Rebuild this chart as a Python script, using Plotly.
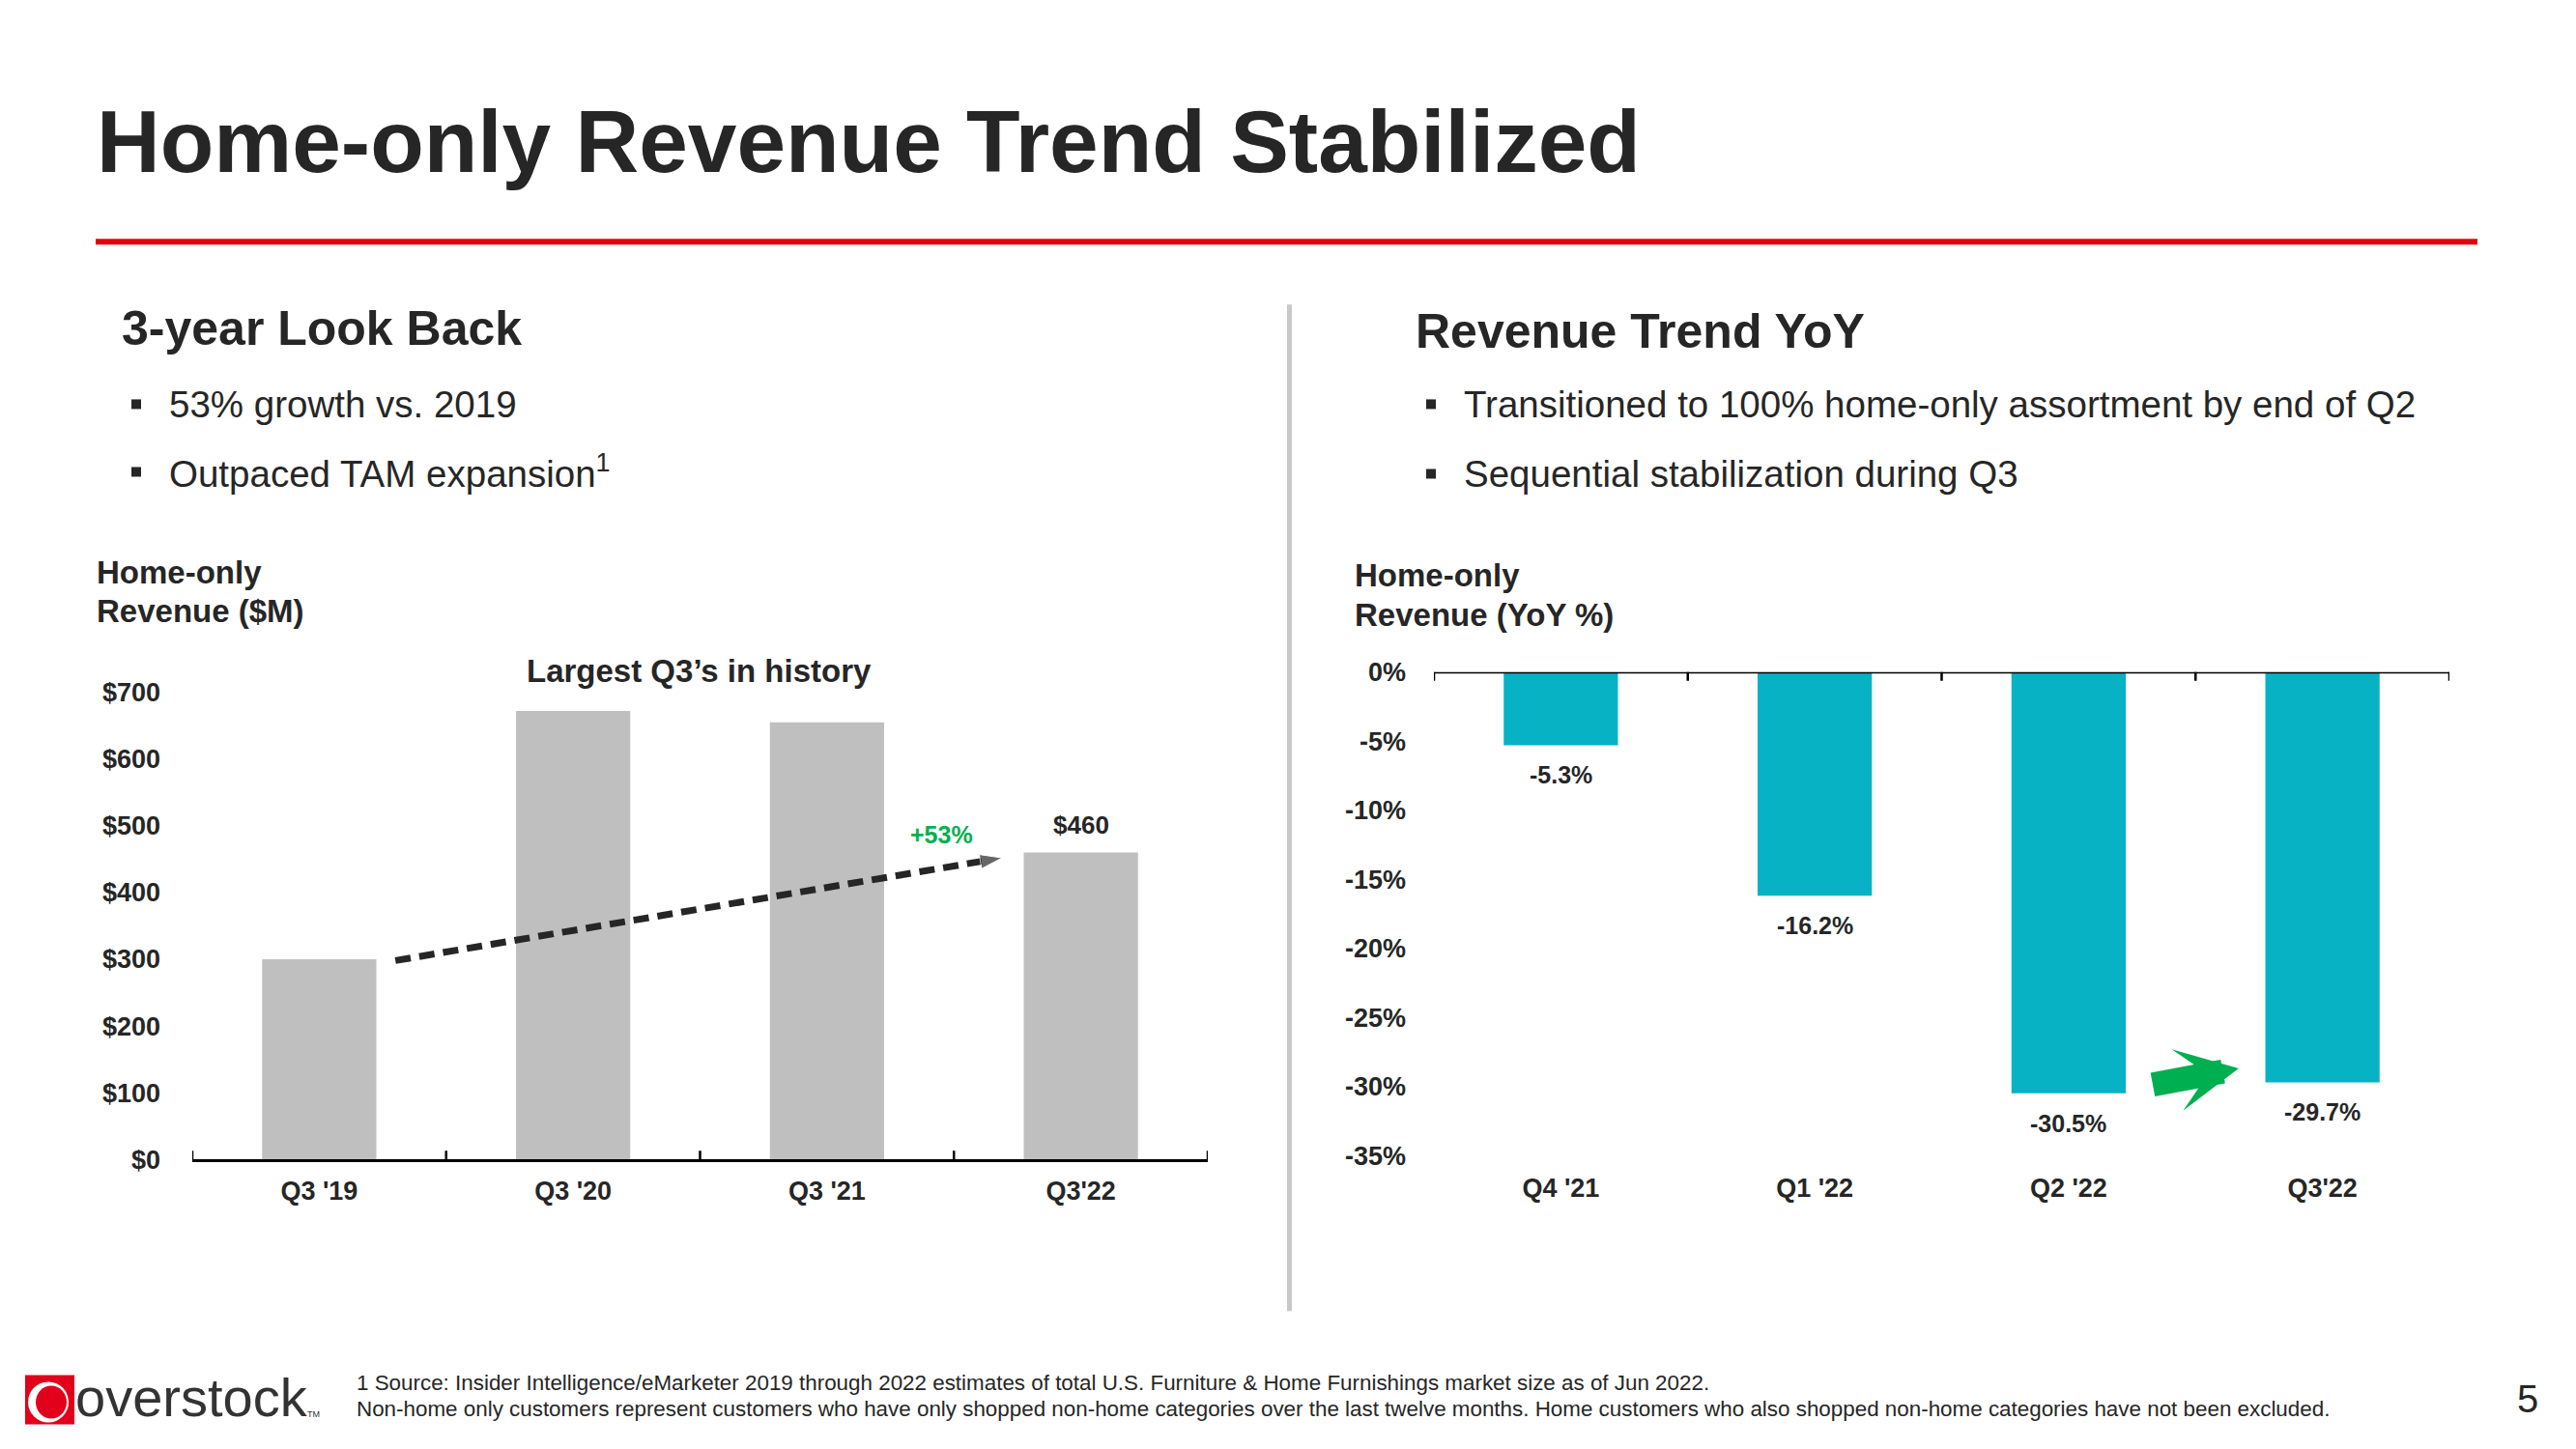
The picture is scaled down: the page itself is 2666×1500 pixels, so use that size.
import plotly.graph_objects as go

W, H = 2666, 1500

# ---------------- data ----------------
rev_categories = ["Q3 '19", "Q3 '20", "Q3 '21", "Q3'22"]
rev_values = [300, 672, 655, 460]
rev_ticks = [0, 100, 200, 300, 400, 500, 600, 700]
rev_ticklabels = ["$" + str(v) for v in rev_ticks]

yoy_categories = ["Q4 '21", "Q1 '22", "Q2 '22", "Q3'22"]
yoy_values = [-5.3, -16.2, -30.5, -29.7]
yoy_ticks = [0, -5, -10, -15, -20, -25, -30, -35]
yoy_ticklabels = [str(v) + "%" for v in yoy_ticks]
yoy_labels = [str(v) + "%" for v in yoy_values]

TEXT = "#262626"
GRAY_BAR = "#BFBFBF"
CYAN = "#07B2C4"
RED = "#E3000F"
GREEN = "#00B050"
FONT = "Liberation Sans, Arial, sans-serif"

# vertical calibration of the page (observed: rendered = 15 + 0.979 * requested)
VOFF, VSCALE = 15.0, 0.979


def fx(p):
    return p / W


def fy(p):
    return 1 - ((p - VOFF) / VSCALE) / H


fig = go.Figure()

xl = list(range(len(rev_categories)))
xr = list(range(len(yoy_categories)))

fig.add_trace(go.Bar(x=xl, y=rev_values, width=0.45, marker_color=GRAY_BAR,
                     marker_line_width=0, xaxis="x", yaxis="y", hoverinfo="skip"))
fig.add_trace(go.Bar(x=xr, y=yoy_values, width=0.45, marker_color=CYAN,
                     marker_line_width=0, xaxis="x2", yaxis="y2", hoverinfo="skip"))

# dashed growth arrow (Q3'19 -> Q3'22)
fig.add_trace(go.Scatter(
    x=[xl[0] + 0.3, xl[3] - 0.31], y=[rev_values[0] - 2, rev_values[3] - 8],
    mode="lines+markers", xaxis="x", yaxis="y", hoverinfo="skip",
    line=dict(color=TEXT, width=7, dash="16px,9px"),
    marker=dict(symbol=["circle", "arrow"], size=[0, 24], color=TEXT, angleref="previous"),
))

ann = []


def txt(text, x, y, size, color=TEXT, bold=False, xanchor="left", yanchor="middle",
        family=FONT, xref="paper", yref="paper", **kw):
    d = dict(text=text, x=x, y=y, xref=xref, yref=yref, showarrow=False,
             xanchor=xanchor, yanchor=yanchor,
             font=dict(family=family, size=size, color=color, weight="bold" if bold else "normal"))
    d.update(kw)
    ann.append(d)


# title
txt("Home-only Revenue Trend Stabilized", fx(98), fy(146), 91, bold=True)

# section headings
txt("3-year Look Back", fx(124), fy(340), 50, bold=True)
txt("Revenue Trend YoY", fx(1463), fy(343), 50, bold=True)

# bullets
txt("53% growth vs. 2019", fx(173), fy(418), 38.5)
txt("Outpaced TAM expansion<sup>1</sup>", fx(173), fy(488), 38.5)
txt("Transitioned to 100% home-only assortment by end of Q2", fx(1513), fy(418), 38.5)
txt("Sequential stabilization during Q3", fx(1513), fy(490), 38.5)

# axis titles
txt("Home-only", fx(98), fy(592), 33, bold=True)
txt("Revenue ($M)", fx(98), fy(632), 33, bold=True)
txt("Home-only", fx(1400), fy(595), 33, bold=True)
txt("Revenue (YoY %)", fx(1400), fy(636), 33, bold=True)

# left chart annotations
txt("Largest Q3\u2019s in history", fx(723), fy(694), 33, bold=True, xanchor="center")
txt("$" + str(rev_values[3]), xl[3], rev_values[3], 26, bold=True, xanchor="center",
    xref="x", yref="y", yshift=28)
txt("+53%", xl[3] - 0.55, rev_values[3], 25, color=GREEN, bold=True, xanchor="center",
    xref="x", yref="y", yshift=18)

# right chart value labels
for i, v in enumerate(yoy_values):
    txt(yoy_labels[i], xr[i], v, 25, bold=True, xanchor="center", xref="x2", yref="y2", yshift=-31)

# green arrow (Q2 -> Q3)
ann.append(dict(x=xr[2] + 0.67, y=yoy_values[3] + 1.0, ax=xr[2] + 0.32, ay=yoy_values[2] + 0.6,
                xref="x2", yref="y2", axref="x2", ayref="y2", text=" ", showarrow=True,
                arrowhead=3, arrowsize=0.43, arrowwidth=25, arrowcolor="#00AF50", standoff=0))

# footnotes
txt("1 Source: Insider Intelligence/eMarketer 2019 through 2022 estimates of total U.S. Furniture &amp; Home Furnishings market size as of Jun 2022.",
    fx(367), fy(1430), 22.4)
txt("Non-home only customers represent customers who have only shopped non-home categories over the last twelve months. Home customers who also shopped non-home categories have not been excluded.",
    fx(367), fy(1457), 22.4)
txt("5", fx(2616), fy(1447), 40, xanchor="center")

# logo
txt("overstock", fx(76), fy(1445), 56, color="#333333")
txt("TM", fx(316), fy(1463), 9, color="#333333")

shapes = []
# red rule
shapes.append(dict(type="rect", xref="paper", yref="paper", x0=fx(99), x1=fx(2564), y0=fy(253), y1=fy(247),
                   fillcolor=RED, line_width=0))
# divider
shapes.append(dict(type="rect", xref="paper", yref="paper", x0=fx(1332), x1=fx(1337), y0=fy(1356), y1=fy(315),
                   fillcolor="#C8C8C8", line_width=0))
# bullet squares
for bx, by in [(136, 418), (136, 488), (1476, 418), (1476, 490)]:
    shapes.append(dict(type="rect", xref="paper", yref="paper", x0=fx(bx), x1=fx(bx + 10),
                       y0=fy(by + 5), y1=fy(by - 5), fillcolor=TEXT, line_width=0))
# logo square
shapes.append(dict(type="rect", xref="paper", yref="paper", x0=fx(26), x1=fx(77), y0=fy(1473), y1=fy(1422),
                   fillcolor="#E2001A", line_width=0))
shapes.append(dict(type="circle", xref="paper", yref="paper", x0=fx(29), x1=fx(71), y0=fy(1471), y1=fy(1429),
                   fillcolor="white", line_width=0))
shapes.append(dict(type="circle", xref="paper", yref="paper", x0=fx(37), x1=fx(69), y0=fy(1467), y1=fy(1433),
                   fillcolor="#E2001A", line_width=0))

# axis cross ticks
for i in range(len(rev_categories) + 1):
    shapes.append(dict(type="line", xref="x", yref="y", x0=i - 0.5, x1=i - 0.5, ysizemode="pixel",
                       yanchor=0, y0=-9, y1=9, line=dict(color="black", width=2.5)))
# right chart zero line & ticks
shapes.append(dict(type="line", xref="x2 domain", yref="y2", x0=0, x1=1, y0=0, y1=0,
                   line=dict(color="black", width=3)))
for i in range(len(yoy_categories) + 1):
    shapes.append(dict(type="line", xref="x2", yref="y2", x0=i - 0.5, x1=i - 0.5, ysizemode="pixel",
                       yanchor=0, y0=-9, y1=9, line=dict(color="black", width=2.5)))

tickfont = dict(family=FONT, size=27, color=TEXT, weight="bold")

fig.update_layout(
    width=W, height=H, margin=dict(l=0, r=0, t=0, b=0, pad=0),
    paper_bgcolor="white", plot_bgcolor="white", showlegend=False,
    xaxis=dict(domain=[fx(199), fx(1250)], range=[-0.5, 3.5], anchor="y",
               tickvals=xl, ticktext=rev_categories, tickfont=tickfont,
               showline=True, linecolor="black", linewidth=3, ticks="",
               showgrid=False, zeroline=False, ticklabelstandoff=6, fixedrange=True),
    yaxis=dict(domain=[fy(1199), fy(716)], range=[0, 700], anchor="x",
               tickvals=rev_ticks, ticktext=rev_ticklabels, tickfont=tickfont,
               showline=False, showgrid=False, zeroline=False, ticks="",
               ticklabelstandoff=32, fixedrange=True),
    xaxis2=dict(domain=[fx(1484), fx(2535)], range=[-0.5, 3.5], anchor="y2",
                tickvals=xr, ticktext=yoy_categories, tickfont=tickfont,
                showline=False, ticks="", showgrid=False, zeroline=False,
                ticklabelstandoff=15, fixedrange=True),
    yaxis2=dict(domain=[fy(1195), fy(695)], range=[-35, 0], anchor="x2",
                tickvals=yoy_ticks, ticktext=yoy_ticklabels, tickfont=tickfont,
                showline=False, showgrid=False, zeroline=False, ticks="",
                ticklabelstandoff=28, fixedrange=True),
    annotations=ann, shapes=shapes,
)

fig.write_html("out.html", config={"displayModeBar": False},
               post_script="document.body.style.margin='0';document.body.style.overflow='hidden';")
